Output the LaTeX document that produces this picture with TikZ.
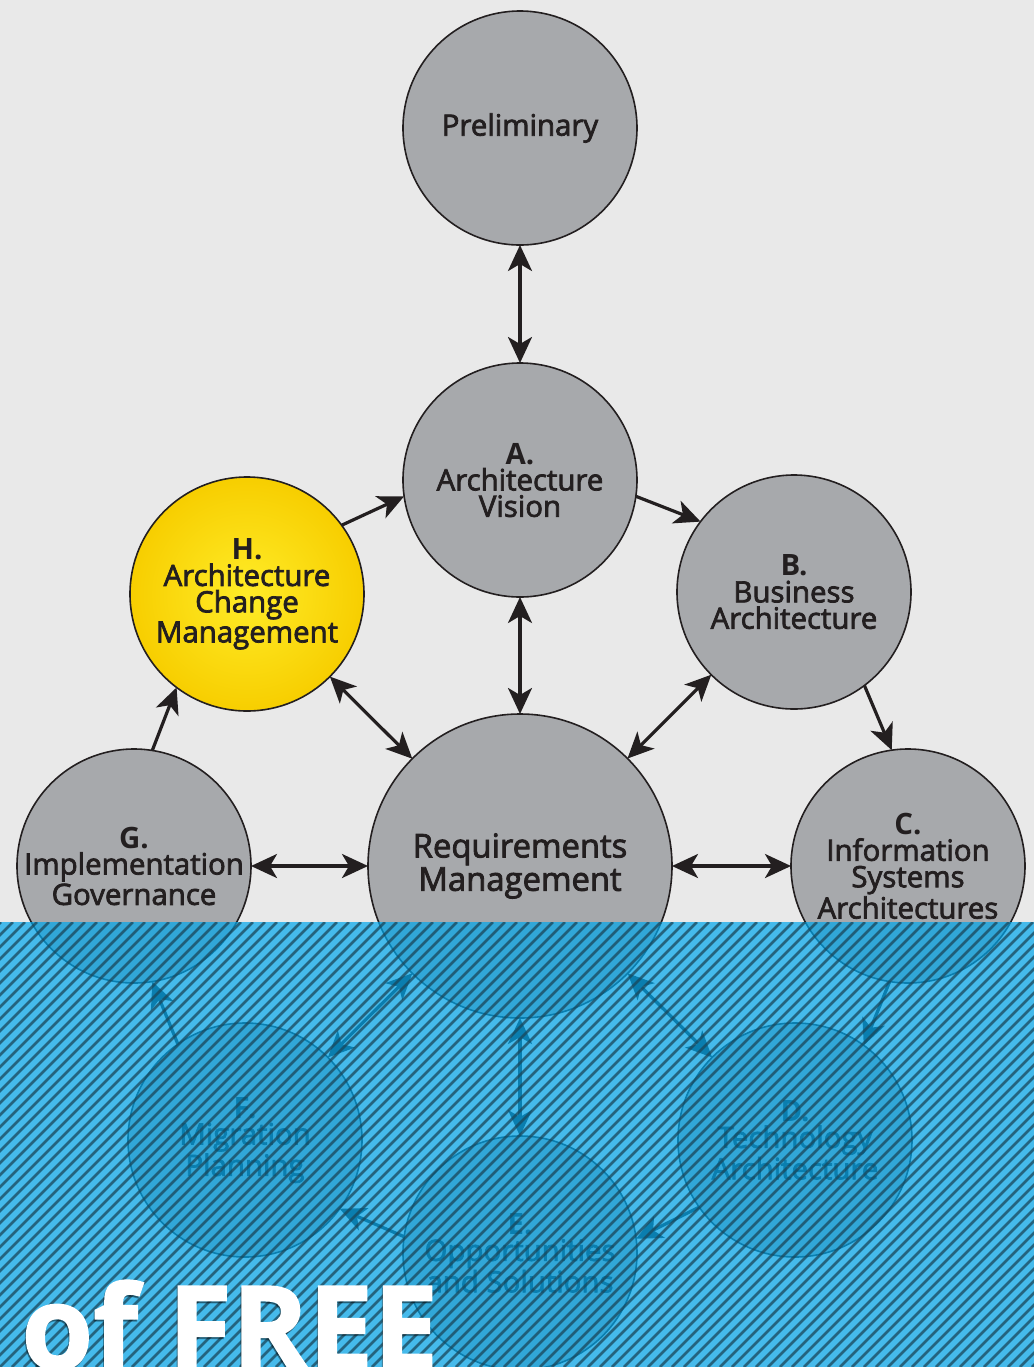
\documentclass[tikz,border=0pt]{standalone}
\usepackage{fontspec}
\setmainfont{Open Sans}
\font\semiA="Open Sans:embolden=2.5" at 14.7pt
\font\semiB="Open Sans:embolden=2.5" at 16.4pt
\font\boldA="Open Sans/B" at 14.7pt
\newfontfamily\bigfont{Open Sans}[BoldFeatures={FakeBold=1.5}]
\usetikzlibrary{arrows.meta,shadings}
\definecolor{bg}{HTML}{E9E9E9}
\definecolor{cgrey}{HTML}{A7A9AC}
\definecolor{ink}{HTML}{231F20}
\definecolor{ovl}{RGB}{0,167,236}
\definecolor{hatchc}{RGB}{25,70,90}
\definecolor{yin}{RGB}{255,236,40}
\definecolor{yout}{RGB}{247,206,0}
\newcommand{\lbl}[1]{{\boldA #1}}
\tikzset{
  phase/.style={circle, draw=ink, line width=0.8pt, fill=cgrey, minimum size=117pt,
    inner sep=0pt, outer sep=0pt, align=center, text=ink,
    font={\semiA\baselineskip=13.2pt}},
  bigphase/.style={phase, minimum size=152pt, font={\semiB\baselineskip=15pt}},
  tip/.tip={Stealth[length=13pt,width=12pt,inset=3.5pt]},
  arr/.style={draw=ink, line width=1.6pt, -tip},
  darr/.style={draw=ink, line width=1.6pt, tip-tip},
  hatch/.style={draw=hatchc, line width=1.3pt, draw opacity=0.75},
  bigtext/.style={font=\bigfont\bfseries\fontsize{58}{62}\selectfont, inner sep=0pt, anchor=base west}
}
\begin{document}
\begin{tikzpicture}[x=0.5pt,y=-0.5pt]
\fill[bg] (0,0) rectangle (1034,1367);
\useasboundingbox (0,0) rectangle (1034,1367);

% phases
\node[phase] (P) at (520,128) {Preliminary};
\node[phase] (A) at (520,480) {\lbl{A.}\\Architecture\\Vision};
\node[phase] (B) at (794,592) {\lbl{B.}\\Business\\Architecture};
\node[phase, shade, inner color=yin, outer color=yout] (H) at (247,594) {\lbl{H.}\\Architecture\\Change\\Management};
\node[phase] (G) at (134,866) {\lbl{G.}\\Implementation\\Governance};
\node[bigphase] (R) at (520,866) {Requirements\\Management};
\node[phase] (C) at (908,866) {\lbl{C.}\\Information\\Systems\\Architectures};
\node[phase] (F) at (245,1140) {\lbl{F.}\\Migration\\Planning};
\node[phase] (D) at (795,1140) {\lbl{D.}\\Technology\\Architecture};
\node[phase] (E) at (520,1253) {\lbl{E.}\\Opportunities\\and Solutions};

% cycle arrows
\draw[arr] (H.36) -- (A.188);
\draw[arr] (A.-8) -- (B.143);
\draw[arr] (B.-53) -- (C.98.6);
\draw[arr] (C.261) -- (D.54.6);
\draw[arr] (D.215.5) -- (E.7.3);
\draw[arr] (E.172.7) -- (F.-36);
\draw[arr] (F.125.5) -- (G.-81.3);
\draw[arr] (G.81.3) -- (H.233.5);

% requirements arrows
\draw[darr] (P) -- (A);
\draw[darr] (A) -- (R);
\draw[darr] (H) -- (R);
\draw[darr] (B) -- (R);
\draw[darr] (G) -- (R);
\draw[darr] (R) -- (C);
\draw[darr] (R) -- (F);
\draw[darr] (R) -- (D);
\draw[darr] (R) -- (E);

% overlay
\fill[ovl, fill opacity=0.7] (0,922) rectangle (1034,1367);
\begin{scope}
\clip (0,922) rectangle (1034,1367);
\foreach \i in {-468,-456,...,1044} \draw[hatch] (\i,1367) -- ++(445,-445);
\end{scope}

\node[bigtext, text=black, text opacity=0.35] (ts) at (20,1371) {of FREE};
\node[bigtext, text=white] (t) at (21,1369) {of FREE};
\end{tikzpicture}
\end{document}
